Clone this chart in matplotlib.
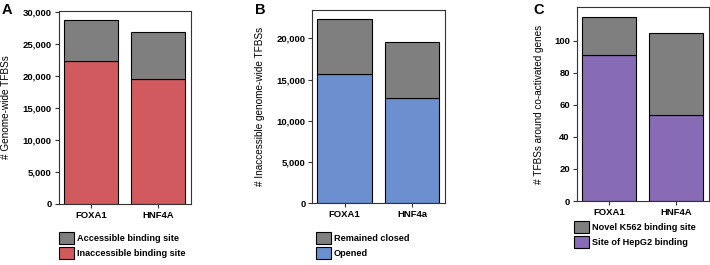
import matplotlib
matplotlib.use("Agg")
import matplotlib.pyplot as plt
from matplotlib.ticker import FuncFormatter

# panel A
a_genes = ["FOXA1", "HNF4A"]
a_inaccessible = [22330, 19510]
a_accessible = [6470, 7360]
a_labels = ["Accessible binding site", "Inaccessible binding site"]

# panel B
b_genes = ["FOXA1", "HNF4a"]
b_opened = [15710, 12800]
b_closed = [6620, 6710]
b_labels = ["Remained closed", "Opened"]

# panel C
c_genes = ["FOXA1", "HNF4A"]
c_hepg2 = [91, 54]
c_novel = [24, 51]
c_labels = ["Novel K562 binding site", "Site of HepG2 binding"]

GRAY = "#7f7f7f"
RED = "#d15a5e"
BLUE = "#6b8fcf"
PURPLE = "#876bb5"

plt.rcParams["font.family"] = ["Liberation Sans", "DejaVu Sans"]


def panel(fig, rect, genes, bottom, top, color, labels, ylabel, ylim, yticks,
          fmt, letter, letter_xy, leg_xy, label_x):
    ax = fig.add_axes(rect)
    x = range(len(genes))
    b1 = ax.bar(x, bottom, width=0.81, color=color, edgecolor="black", linewidth=0.8)
    b2 = ax.bar(x, top, width=0.81, bottom=bottom, color=GRAY, edgecolor="black",
                linewidth=0.8)
    ax.set_xlim(-0.48, 1.49)
    ax.set_ylim(*ylim)
    ax.set_yticks(yticks)
    ax.yaxis.set_major_formatter(FuncFormatter(fmt))
    ax.set_xticks(list(x))
    ax.set_xticklabels(genes)
    for s in ax.spines.values():
        s.set_color("#333333")
        s.set_linewidth(0.8)
    ax.tick_params(length=3, width=0.8, color="#333333", labelsize=6.8, pad=2)
    for t in ax.get_xticklabels() + ax.get_yticklabels():
        t.set_fontweight("bold")
    ax.set_ylabel(ylabel, fontsize=7.2)
    ax.yaxis.set_label_coords(label_x, 0.5)
    fig.text(letter_xy[0], letter_xy[1], letter, fontsize=10.5, fontweight="bold",
             va="top", ha="left")
    fig.legend([b2, b1], labels, loc="upper left", bbox_to_anchor=leg_xy,
               bbox_transform=fig.transFigure, frameon=False, borderpad=0,
               borderaxespad=0, handlelength=1.65,
               handleheight=1.65, handletextpad=0.35, labelspacing=0.3,
               prop={"weight": "bold", "size": 6.6})
    return ax


def comma(v, pos):
    return f"{int(v):,}"


def plain(v, pos):
    return f"{int(v)}"


def main():
    fig = plt.figure(figsize=(7.1, 2.65), dpi=100)

    panel(fig, [0.0827, 0.2302, 0.1859, 0.7283], a_genes, a_inaccessible,
          a_accessible, RED, a_labels, "# Genome-wide TFBSs", (0, 30200),
          range(0, 30001, 5000), comma, "A", (0.002, 0.99), (0.0827, 0.1245),
          -0.365)

    panel(fig, [0.4399, 0.2328, 0.1869, 0.7294], b_genes, b_opened, b_closed,
          BLUE, b_labels, "# Inaccessible genome-wide TFBSs", (0, 23430),
          range(0, 20001, 5000), comma, "B", (0.359, 0.99), (0.4446, 0.1245),
          -0.355)

    panel(fig, [0.8123, 0.2415, 0.1863, 0.7309], c_genes, c_hepg2, c_novel,
          PURPLE, c_labels, "# TFBSs around co-activated genes", (0, 121),
          range(0, 101, 20), plain, "C", (0.751, 0.99), (0.8085, 0.166),
          -0.245)

    fig.savefig("out.png", dpi=100)


if __name__ == "__main__":
    main()
